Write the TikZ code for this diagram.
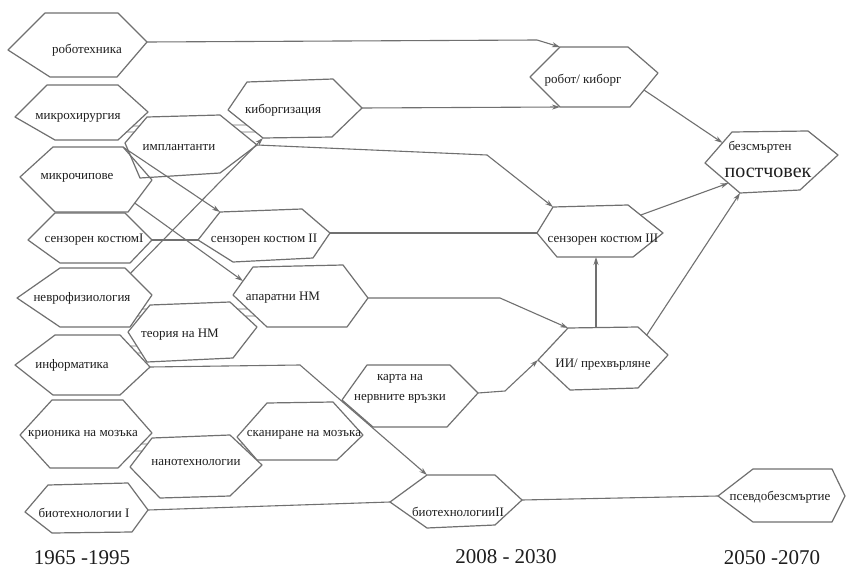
\documentclass[tikz,border=0pt]{standalone}
\usepackage{fontspec}
\setmainfont{Liberation Serif}
\usetikzlibrary{calc,arrows.meta}
\definecolor{ln}{HTML}{707070}
\definecolor{tx}{HTML}{1E1E1E}
\tikzset{
  hexline/.style={draw=ln,line width=1.2pt,line join=round},
  conn/.style={draw=ln,line width=1.1pt},
  arr/.style={conn,-{Stealth[length=8pt,width=5pt]}},
  lbl/.style={text=tx,inner sep=0pt,font=\fontsize{13}{15}\selectfont},
  big/.style={text=tx,inner sep=0pt,font=\fontsize{20}{22}\selectfont},
  yr/.style={text=tx,inner sep=0pt,font=\fontsize{21}{23}\selectfont}
}
\newcommand\hexa[7]{%
  \coordinate (#1-L) at (#2);
  \coordinate (#1-TL) at (#3);
  \coordinate (#1-TR) at (#4);
  \coordinate (#1-R) at (#5);
  \coordinate (#1-BR) at (#6);
  \coordinate (#1-BL) at (#7);
  \draw[hexline] (#1-L) -- (#1-TL) -- (#1-TR) -- (#1-R) -- (#1-BR) -- (#1-BL) -- cycle;}
\newcommand\brdg[6]{\draw[hexline,line width=0.9pt] ($(#1)!#3!(#2)$) -- ($(#4)!#6!(#5)$);}
\begin{document}
\begin{tikzpicture}[x=1pt,y=-1pt]
\useasboundingbox[fill=white] (0,0) rectangle (847,570);
% hexagons
\hexa{rob}{8,50}{45,13}{118,13}{147,42}{117,77}{50,77}
\hexa{mh}{15,117}{47,85}{118,85}{148,112}{118,140}{55,140}
\hexa{imp}{125,143}{147,117}{220,115}{257,145}{220,173}{140,178}
\hexa{mc}{20,177}{53,147}{123,147}{152,180}{128,212}{55,212}
\hexa{cyb}{228,110}{247,82}{333,79}{362,108}{332,137}{263,138}
\hexa{sa}{28,240}{55,213}{125,213}{152,240}{130,263}{60,263}
\hexa{sb}{198,240}{220,212}{302,209}{330,233}{313,258}{233,262}
\hexa{nf}{17,298}{60,268}{125,268}{152,295}{130,327}{60,327}
\hexa{ap}{233,295}{253,267}{343,265}{368,298}{347,327}{267,327}
\hexa{th}{128,332}{150,305}{230,302}{257,327}{233,358}{147,362}
\hexa{inf}{15,365}{55,335}{120,335}{150,367}{120,395}{53,395}
\hexa{cr}{20,435}{52,400}{123,400}{152,433}{118,468}{50,468}
\hexa{na}{130,467}{152,438}{230,435}{262,465}{230,496}{160,498}
\hexa{sc}{237,437}{267,403}{333,402}{363,435}{337,460}{257,460}
\hexa{ba}{25,512}{48,485}{128,483}{148,510}{132,532}{52,533}
\hexa{ka}{342,400}{367,365}{450,365}{478,393}{447,427}{373,427}
\hexa{bb}{390,502}{427,475}{495,475}{522,500}{495,525}{427,528}
\hexa{rc}{530,77}{560,47}{628,47}{658,73}{630,107}{560,107}
\hexa{im}{705,163}{732,132}{808,131}{838,155}{800,190}{740,193}
\hexa{sc3}{537,233}{553,207}{628,205}{663,233}{633,257}{557,257}
\hexa{ii}{538,360}{568,328}{638,327}{668,355}{638,388}{570,390}
\hexa{ps}{718,496}{753,469}{832,469}{845,496}{832,522}{753,522}
% small bridges between touching hexagons
\brdg{mh-R}{mh-BR}{0.5}{imp-TL}{imp-L}{0.346}
\brdg{mh-R}{mh-BR}{0.714}{imp-TL}{imp-L}{0.577}
\brdg{cyb-L}{cyb-BL}{0.536}{imp-TR}{imp-R}{0.333}
\brdg{cyb-L}{cyb-BL}{0.786}{imp-TR}{imp-R}{0.567}
\brdg{nf-R}{nf-BR}{0.4375}{th-TL}{th-L}{0.148}
\brdg{nf-R}{nf-BR}{0.656}{th-TL}{th-L}{0.407}
\brdg{th-L}{th-BL}{0.467}{inf-TR}{inf-R}{0.344}
\brdg{th-L}{th-BL}{0.7}{inf-TR}{inf-R}{0.5625}
\brdg{ap-L}{ap-BL}{0.4375}{th-TR}{th-R}{0.28}
\brdg{ap-L}{ap-BL}{0.656}{th-TR}{th-R}{0.56}
\brdg{cr-R}{cr-BR}{0.314}{na-TL}{na-L}{0.207}
\brdg{cr-R}{cr-BR}{0.514}{na-TL}{na-L}{0.448}
\brdg{na-TR}{na-R}{0.3}{sc-L}{sc-BL}{0.304}
\brdg{na-TR}{na-R}{0.533}{sc-L}{sc-BL}{0.609}
% labels
\node[lbl] (t-rob) at (87,50) {роботехника};
\node[lbl] (t-mh) at (78,118) {микрохирургия};
\node[lbl] (t-imp) at (179,148) {имплантанти};
\node[lbl] (t-mc) at (77,178) {микрочипове};
\node[lbl] (t-cyb) at (283,110) {киборгизация};
\node[lbl] (t-sa) at (94,240) {сензорен костюмI};
\node[lbl] (t-sb) at (264,240) {сензорен костюм II};
\node[lbl] (t-nf) at (82,298) {неврофизиология};
\node[lbl] (t-ap) at (283,298) {апаратни НМ};
\node[lbl] (t-th) at (180,335) {теория на НМ};
\node[lbl] (t-inf) at (72,365) {информатика};
\node[lbl] (t-cr) at (83,435) {крионика на мозъка};
\node[lbl] (t-na) at (196,462) {нанотехнологии};
\node[lbl] (t-sc) at (304,435) {сканиране на мозъка};
\node[lbl] (t-ba) at (84,513) {биотехнологии I};
\node[lbl] (t-ka1) at (400,379) {карта на};
\node[lbl] (t-ka2) at (400,399) {нервните връзки};
\node[lbl] (t-bb) at (458,512) {биотехнологииII};
\node[lbl] (t-rc) at (583,80) {робот/ киборг};
\node[lbl] (t-im1) at (760,147) {безсмъртен};
\node[big] (t-im2) at (768,173) {постчовек};
\node[lbl] (t-sc3) at (603,240) {сензорен костюм III};
\node[lbl] (t-ii) at (603,365) {ИИ/ прехвърляне};
\node[lbl] (t-ps) at (780,497) {псевдобезсмъртие};
\node[yr] (y1) at (82,558) {1965 -1995};
\node[yr] (y2) at (506,557) {2008 - 2030};
\node[yr] (y3) at (772,558) {2050 -2070};
% connector bends
\coordinate (k1) at (537,40);
\coordinate (k2) at (487,155);
\coordinate (k3) at (500,298);
\coordinate (k4) at (505,391);
\coordinate (k5) at (300,365);
% connectors
\draw[arr] (rob-R) -- (k1) -- (rc-TL);
\draw[arr] (cyb-R) -- (rc-BL);
\draw[arr] ($(rc-R)!0.5!(rc-BR)$) -- ($(im-TL)!0.35!(im-L)$);
\draw[arr] (imp-R) -- (k2) -- (sc3-TL);
\draw[arr] (mc-TR) -- (sb-TL);
\draw[arr] ($(mc-R)!0.72!(mc-BR)$) -- ($(ap-L)!0.5!(ap-TL)$);
\draw[arr] ($(nf-TR)!0.2!(nf-R)$) -- (cyb-BL);
\draw[conn] (sa-R) -- (sb-L);
\draw[conn] (sb-R) -- (sc3-L);
\draw[arr] (ap-R) -- (k3) -- (ii-TL);
\draw[arr] (ka-R) -- (k4) -- (ii-L);
\coordinate (iitop) at ($(ii-TL)!0.4!(ii-TR)$);
\draw[arr] (iitop) -- (iitop |- sc3-BL);
\draw[arr] ($(ii-TR)!0.29!(ii-R)$) -- (im-BL);
\draw[arr] ($(sc3-TR)!0.36!(sc3-R)$) -- ($(im-L)!0.67!(im-BL)$);
\draw[arr] (inf-R) -- (k5) -- (bb-TL);
\draw[conn] (ba-R) -- (bb-L);
\draw[conn] (bb-R) -- (ps-L);
\end{tikzpicture}
\end{document}
